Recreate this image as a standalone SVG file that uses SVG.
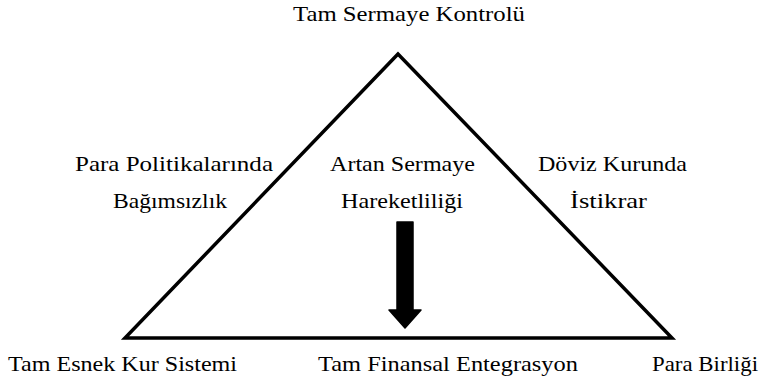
<svg xmlns="http://www.w3.org/2000/svg" width="764" height="380" viewBox="0 0 764 380">
<style>
text{font-family:"Liberation Serif","Times New Roman",serif;font-size:21px;fill:#000;text-anchor:middle}
.edge{fill:none;stroke:#000;stroke-width:3.5;stroke-linejoin:miter}
</style>
<rect width="764" height="380" fill="#fff"/>
<g id="connectors">
<polygon class="edge" points="398,54 125,338 672,338"/>
<path id="arrow" d="M397,222 L413,222 L413,310 L421,310 L405,328 L389,310 L397,310 Z" fill="#000" stroke="#000" stroke-width="1.5" stroke-linejoin="round"/>
</g>
<g id="n-top"><text x="409" y="21" textLength="232" lengthAdjust="spacingAndGlyphs">Tam Sermaye Kontrolü</text></g>
<g id="n-left"><text x="174" y="171" textLength="198" lengthAdjust="spacingAndGlyphs">Para Politikalarında</text><text x="170" y="208" textLength="114" lengthAdjust="spacingAndGlyphs">Bağımsızlık</text></g>
<g id="n-center"><text x="402.5" y="171" textLength="145" lengthAdjust="spacingAndGlyphs">Artan Sermaye</text><text x="402" y="208" textLength="122" lengthAdjust="spacingAndGlyphs">Hareketliliği</text></g>
<g id="n-right"><text x="612.5" y="171" textLength="149" lengthAdjust="spacingAndGlyphs">Döviz Kurunda</text><text x="608.5" y="208" textLength="77" lengthAdjust="spacingAndGlyphs">İstikrar</text></g>
<g id="n-bl"><text x="122.5" y="371" textLength="229" lengthAdjust="spacingAndGlyphs">Tam Esnek Kur Sistemi</text></g>
<g id="n-bc"><text x="448" y="371" textLength="260" lengthAdjust="spacingAndGlyphs">Tam Finansal Entegrasyon</text></g>
<g id="n-br"><text x="705" y="371" textLength="106" lengthAdjust="spacingAndGlyphs">Para Birliği</text></g>
</svg>
